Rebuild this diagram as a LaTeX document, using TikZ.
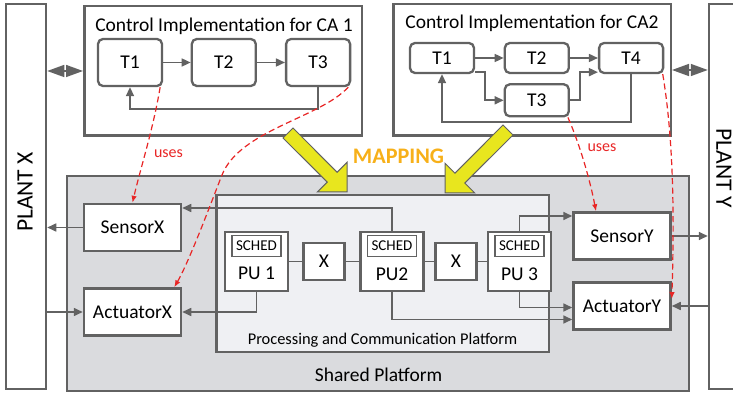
\documentclass[tikz,border=0pt]{standalone}
\usepackage{fontspec}
\setmainfont{Carlito}
\usepackage{tikz}
\usetikzlibrary{arrows.meta, positioning, calc}
\definecolor{edgegray}{RGB}{98,98,98}
\definecolor{sharedfill}{RGB}{218,219,222}
\definecolor{procfill}{RGB}{239,240,243}
\definecolor{usesred}{RGB}{232,38,38}
\definecolor{mapyellow}{RGB}{232,230,30}
\definecolor{maporange}{RGB}{247,176,25}
\newcommand{\sizept}[1]{\fontsize{#1}{#1}\selectfont}

\begin{document}
\begin{tikzpicture}[x=1pt, y=-1pt,
        plant/.style={draw=edgegray, line width=2.5pt, minimum width=40pt, minimum height=385pt, inner sep=0pt},
        plantname/.style={font=\sizept{23.5}, inner sep=0pt},
        cabox/.style={draw=edgegray, line width=2.5pt, fill=white, minimum width=277.5pt},
        catitle/.style={font=\sizept{19.5}, inner sep=0pt, anchor=base},
        task/.style={draw=edgegray, line width=2.3pt, rounded corners=5pt, fill=white, minimum width=64pt, font=\sizept{19.5}, inner sep=0pt},
        iobox/.style={draw=edgegray, line width=2.5pt, fill=white, minimum width=97pt, minimum height=47pt, font=\sizept{19.5}},
        unit/.style={draw=edgegray, line width=2.5pt, fill=white, minimum width=63pt, minimum height=59pt},
        sched/.style={draw=edgegray, line width=1.5pt, fill=white, minimum width=49pt, minimum height=21pt, inner sep=0pt, font=\sizept{15}},
        unitname/.style={font=\sizept{19.5}, inner sep=0pt},
        switchbox/.style={draw=edgegray, line width=2.5pt, fill=white, minimum width=41pt, minimum height=37pt, font=\sizept{19.5}},
        arr/.style={-{Triangle[length=9pt,width=8pt]}, draw=edgegray, line width=1.6pt},
        dbl/.style={{Triangle[length=17pt,width=12pt]}-{Triangle[length=17pt,width=12pt]}, draw=edgegray, line width=1.5pt},
        wire/.style={draw=edgegray, line width=1.6pt},
        uses/.style={draw=usesred, line width=1.2pt, dash pattern=on 6pt off 3.5pt, -{Latex[length=7pt,width=5.5pt]}},
        usesname/.style={text=usesred, font=\sizept{16}, inner sep=0pt, anchor=base},
        mapping/.style={fill=mapyellow, draw=edgegray, line width=1pt, line join=miter}
    ]
    \useasboundingbox (0,0) rectangle (733,395);

    % plants
    \node[plant] (plantx) at (26,196.5) {};
    \node[plantname, rotate=90] (plantxname) at (25,192) {PLANT X};
    \node[plant] (planty) at (729,196.5) {};
    \node[plantname, rotate=-90] (plantyname) at (724,168) {PLANT Y};

    % control applications
    \node[cabox, minimum height=129.5pt] (ca1) at (223,71) {};
    \node[catitle] (ca1title) at (224,32) {Control Implementation for CA 1};
    \node[task, minimum height=47pt] (t1a) at (130,62.5) {T1};
    \node[task, minimum height=47pt, right=27.5pt of t1a] (t2a) {T2};
    \node[task, minimum height=47pt, right=28pt of t2a] (t3a) {T3};

    \node[cabox, minimum height=131.5pt] (ca2) at (532,70) {};
    \node[catitle] (ca2title) at (532,29) {Control Implementation for CA2};
    \node[task, minimum height=30pt] (t1b) at (442,58) {T1};
    \node[task, minimum height=30pt, right=28.5pt of t1b] (t2b) {T2};
    \node[task, minimum height=30pt, right=28pt of t2b] (t4b) {T4};
    \node[task, minimum height=32pt, below=9pt of t2b] (t3b) {T3};

    % platforms
    \node[draw=edgegray, line width=2pt, fill=sharedfill, minimum width=621.5pt, minimum height=214.5pt] (shared) at (378,283.5) {};
    \node[catitle] (sharedname) at (378.5,381) {Shared Platform};
    \node[draw=edgegray, line width=2.5pt, fill=procfill, minimum width=332.5pt, minimum height=156.5pt] (proc) at (382.5,273.5) {};
    \node[usesname, text=black, font=\sizept{16.4}] (procname) at (382.5,344) {Processing and Communication Platform};

    % sensors and actuators
    \node[iobox] (sensorx) at (132.5,227.5) {SensorX};
    \node[iobox, below=35pt of sensorx] (actuatorx) {ActuatorX};
    \node[iobox] (sensory) at (622,236) {SensorY};
    \node[iobox, below=20.5pt of sensory] (actuatory) {ActuatorY};

    % processing units
    \node[unit] (pu1) at (256.5,261.5) {};
    \node[switchbox, right=13pt of pu1] (x1) {X};
    \node[unit, right=13.5pt of x1] (pu2) {};
    \node[switchbox, right=9.5pt of pu2] (x2) {X};
    \node[unit, right=9pt of x2] (pu3) {};
    \node[sched, below=4pt of pu1.north] (sched1) {SCHED};
    \node[sched, below=4pt of pu2.north] (sched2) {SCHED};
    \node[sched, below=4pt of pu3.north] (sched3) {SCHED};
    \node[unitname, below=10pt of sched1] (pu1name) {PU 1};
    \node[unitname, below=10pt of sched2] (pu2name) {PU2};
    \node[unitname, below=10pt of sched3] (pu3name) {PU 3};

    % task graphs
    \draw[arr] (t1a) -- (t2a);
    \draw[arr] (t2a) -- (t3a);
    \draw[arr] (t3a.south) -- ++(0,22) -| (t1a.south);
    \draw[arr] (t1b) -- (t2b);
    \draw[arr] (t2b) -- (t4b);
    \draw[arr] ([yshift=2pt]t1b.south east) -- ++(10,0) |- (t3b.west);
    \draw[arr] (t3b.east) -- ++(10,0) |- ([yshift=2pt]t4b.south west);
    \draw[arr] (t4b.south) -- ++(0,48) -| (t1b.south);

    % plant links
    \draw[dbl] (plantx.east |- ca1.west) -- (ca1.west);
    \draw[dbl] (ca2.east) -- (planty.west |- ca2.east);
    \draw[arr] (sensorx.west) -- (sensorx.west -| plantx.east);
    \draw[arr] (plantx.east |- actuatorx.west) -- (actuatorx.west);
    \draw[arr] (sensory.east) -- (sensory.east -| planty.west);
    \draw[arr] (planty.west |- actuatory.east) -- (actuatory.east);

    % platform links
    \draw[wire] (pu1) -- (x1) -- (pu2) -- (x2) -- (pu3);
    \draw[arr] (pu2.north) |- ([yshift=19.5pt]sensorx.east);
    \draw[arr] (pu1.south) |- (actuatorx.east);
    \draw[arr] (pu3.north) |- ([yshift=20pt]sensory.west);
    \draw[arr] (pu3.south) |- ([yshift=-1.5pt]actuatory.west);
    \draw[arr] (pu2.south) |- ([yshift=-13.5pt]actuatory.west);

    % mapping
    \draw[mapping] (283,138) -- (327.2,182.1) -- (317.3,192) -- (347,192) -- (347,162.3) -- (337.1,172.2) -- (293,128) -- cycle;
    \draw[mapping] (503,125) -- (454.9,173.2) -- (445,163.3) -- (445,193) -- (474.7,193) -- (464.8,183.1) -- (513,135) -- cycle;
    \node[catitle, text=maporange, font=\sizept{22.2}\bfseries] (mapname) at (398.5,164) {MAPPING};

    % uses
    \draw[uses] ([xshift=-3pt]t1a.south east) .. controls (153,130) and (140,170) .. (sensorx.north);
    \node[usesname] (uses1) at (168.5,158) {uses};
    \draw[uses] ([xshift=-3pt]t3a.south east) .. controls (320,118) and (240,130) .. (222,175)
        .. controls (214,195) and (190,260) .. ([xshift=-8pt]actuatorx.north east);
    \draw[uses] ([xshift=-2pt]t3b.south east) .. controls (580,145) and (590,180) .. ([xshift=-26pt]sensory.north);
    \node[usesname] (uses2) at (602,152) {uses};
    \draw[uses] ([xshift=-1.5pt]t4b.south east) .. controls (672,130) and (675,200) .. ([yshift=7pt]actuatory.east);
\end{tikzpicture}
\end{document}
